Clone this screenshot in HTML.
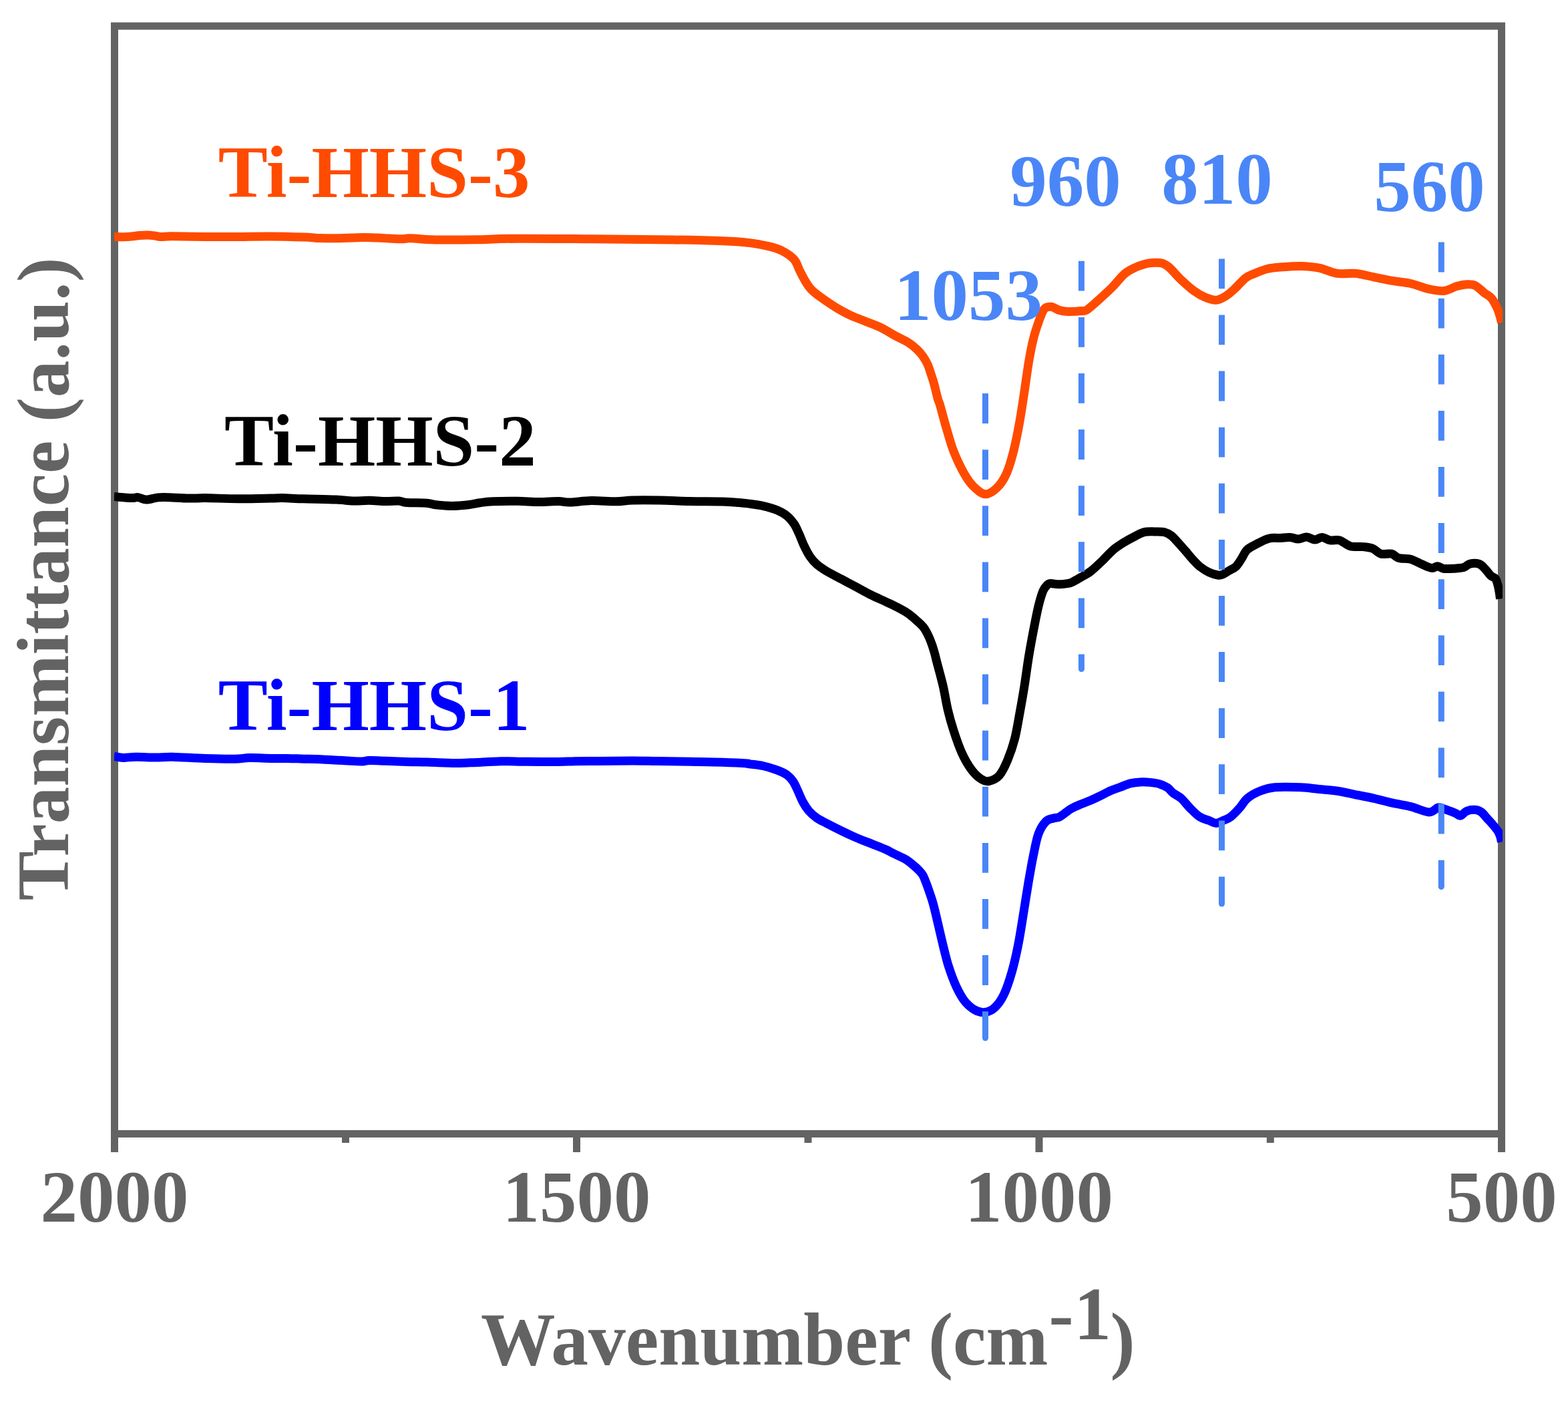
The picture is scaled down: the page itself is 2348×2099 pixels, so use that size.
<!DOCTYPE html>
<html><head><meta charset="utf-8"><title>FTIR spectra</title>
<style>
html,body{margin:0;padding:0;background:#fff;}
body{width:2348px;height:2099px;overflow:hidden;}
svg{display:block;}
svg text{font-family:'Liberation Serif','Times New Roman',serif;font-weight:bold;}
</style></head>
<body>
<svg width="2348" height="2099" viewBox="0 0 2348 2099">
<rect x="171.5" y="39" width="2077" height="1658.5" fill="none" stroke="#636363" stroke-width="11"/>
<line x1="171.5" y1="1697" x2="171.5" y2="1725" stroke="#636363" stroke-width="11"/>
<line x1="863.5" y1="1697" x2="863.5" y2="1725" stroke="#636363" stroke-width="11"/>
<line x1="1556.0" y1="1697" x2="1556.0" y2="1725" stroke="#636363" stroke-width="11"/>
<line x1="2248.5" y1="1697" x2="2248.5" y2="1725" stroke="#636363" stroke-width="11"/>
<line x1="517.5" y1="1697" x2="517.5" y2="1711" stroke="#636363" stroke-width="11"/>
<line x1="1210.0" y1="1697" x2="1210.0" y2="1711" stroke="#636363" stroke-width="11"/>
<line x1="1902.3" y1="1697" x2="1902.3" y2="1711" stroke="#636363" stroke-width="11"/>
<defs><clipPath id="pc"><rect x="171" y="30" width="2079" height="1680"/></clipPath></defs>
<path clip-path="url(#pc)"  d="M171.0,354.4 C173.3,354.4 180.3,354.8 184.6,354.7 C188.9,354.6 192.7,354.4 196.8,354.0 C200.9,353.6 205.0,352.9 209.1,352.5 C213.2,352.1 217.7,351.8 221.4,351.9 C225.1,352.0 227.9,352.5 231.2,352.9 C234.5,353.3 236.5,354.2 241.0,354.4 C245.5,354.5 247.1,353.8 258.2,353.8 C269.2,353.8 290.9,354.3 307.3,354.4 C323.7,354.5 340.1,354.5 356.5,354.4 C372.9,354.3 389.2,353.9 405.6,354.0 C422.0,354.1 442.4,354.7 454.7,355.1 C467.0,355.5 471.1,356.3 479.3,356.6 C487.5,356.9 495.6,356.9 503.8,356.8 C512.0,356.7 521.4,356.3 528.4,356.1 C535.4,355.9 539.5,355.6 545.6,355.6 C551.7,355.6 559.1,355.9 565.2,356.1 C571.3,356.3 576.3,356.7 582.4,357.0 C588.5,357.3 596.7,357.9 602.0,357.8 C607.3,357.8 606.9,356.5 614.3,356.7 C621.7,356.9 636.1,358.4 646.2,358.8 C656.3,359.2 663.8,358.9 675.0,358.9 C686.2,358.9 697.0,359.1 713.7,358.8 C730.4,358.5 746.4,357.4 775.0,357.2 C803.6,357.0 846.7,357.5 885.6,357.8 C924.5,358.1 975.7,358.5 1008.4,359.0 C1041.1,359.5 1063.4,360.1 1082.0,360.8 C1100.6,361.5 1108.8,362.1 1120.0,363.4 C1131.2,364.7 1140.9,366.3 1149.5,368.4 C1158.1,370.4 1165.0,372.3 1171.6,375.7 C1178.2,379.1 1184.8,383.5 1189.2,388.6 C1193.6,393.7 1195.1,400.7 1198.1,406.3 C1201.0,411.9 1204.0,417.8 1206.9,422.5 C1209.9,427.2 1211.9,430.4 1215.8,434.3 C1219.7,438.2 1224.4,441.7 1230.5,446.1 C1236.6,450.5 1245.2,456.4 1252.6,460.8 C1260.0,465.2 1267.3,469.2 1274.7,472.6 C1282.1,476.0 1289.4,478.4 1296.8,481.4 C1304.2,484.3 1311.7,486.8 1318.9,490.3 C1326.1,493.8 1333.0,498.5 1339.8,502.2 C1346.6,505.9 1354.1,509.1 1359.6,512.5 C1365.1,515.9 1369.0,519.3 1372.7,522.7 C1376.4,526.1 1378.8,528.8 1381.6,532.7 C1384.3,536.6 1387.2,541.5 1389.2,545.9 C1391.2,550.3 1392.3,554.7 1393.8,559.1 C1395.3,563.5 1396.8,567.9 1398.1,572.3 C1399.4,576.7 1400.3,581.1 1401.4,585.5 C1402.5,589.9 1403.7,595.1 1404.8,598.7 C1405.9,602.3 1405.7,599.8 1407.8,607.0 C1409.9,614.2 1414.1,630.8 1417.5,642.2 C1420.9,653.6 1423.6,664.5 1428.0,675.6 C1432.4,686.7 1438.8,700.2 1443.8,709.0 C1448.8,717.8 1452.6,723.3 1457.9,728.4 C1463.2,733.5 1469.6,739.5 1475.5,739.8 C1481.4,740.1 1487.8,735.2 1493.1,730.1 C1498.4,725.0 1503.0,718.1 1507.1,709.0 C1511.2,699.9 1514.5,688.2 1517.7,675.6 C1520.9,663.0 1523.9,647.8 1526.5,633.4 C1529.1,619.0 1531.2,604.7 1533.5,589.5 C1535.8,574.3 1538.2,555.8 1540.5,542.0 C1542.8,528.2 1545.2,516.5 1547.6,506.8 C1549.9,497.1 1552.0,491.3 1554.6,484.0 C1557.2,476.7 1560.2,467.0 1563.4,462.9 C1566.6,458.8 1570.2,459.0 1574.0,459.3 C1577.8,459.6 1582.2,463.4 1586.3,464.6 C1590.4,465.8 1593.0,466.2 1598.6,466.4 C1604.2,466.5 1614.8,466.0 1619.7,465.5 C1624.6,465.0 1623.5,466.6 1628.0,463.6 C1632.5,460.6 1640.3,453.4 1646.6,447.7 C1652.9,442.0 1659.8,435.8 1666.0,429.5 C1672.2,423.2 1678.3,414.8 1684.0,410.0 C1689.7,405.2 1695.0,402.9 1700.0,400.5 C1705.0,398.1 1709.6,396.7 1713.8,395.5 C1718.0,394.3 1720.6,393.8 1725.0,393.5 C1729.4,393.2 1735.7,392.8 1740.0,394.0 C1744.3,395.2 1746.2,396.3 1751.0,400.5 C1755.8,404.7 1762.6,413.2 1768.8,419.0 C1775.0,424.8 1782.0,431.1 1788.0,435.5 C1794.0,439.9 1799.0,442.8 1804.5,445.1 C1810.0,447.4 1816.0,449.5 1821.0,449.3 C1826.0,449.1 1830.2,446.6 1834.8,443.8 C1839.4,441.1 1843.5,437.4 1848.5,432.8 C1853.5,428.2 1860.0,420.2 1865.0,416.3 C1870.0,412.4 1873.3,411.7 1878.8,409.4 C1884.3,407.1 1891.1,404.1 1898.0,402.5 C1904.9,400.9 1911.8,400.5 1920.0,399.8 C1928.2,399.1 1938.3,398.2 1947.5,398.4 C1956.7,398.6 1965.8,399.3 1975.0,401.1 C1984.2,402.9 1993.3,408.0 2002.5,409.4 C2011.7,410.8 2020.8,408.5 2030.0,409.4 C2039.2,410.3 2048.3,413.1 2057.5,414.9 C2066.7,416.7 2075.8,418.8 2085.0,420.4 C2094.2,422.0 2103.3,422.4 2112.5,424.5 C2121.7,426.6 2131.8,431.0 2140.0,432.8 C2148.2,434.6 2155.1,436.2 2162.0,435.5 C2168.9,434.8 2175.8,430.2 2181.3,428.6 C2186.8,427.0 2190.4,426.1 2195.0,425.9 C2199.6,425.7 2204.2,425.2 2208.8,427.3 C2213.4,429.4 2218.4,435.1 2222.5,438.3 C2226.6,441.5 2230.3,442.7 2233.5,446.5 C2236.7,450.3 2239.7,456.6 2241.8,461.0 C2243.9,465.4 2244.9,469.3 2246.0,473.0 C2247.1,476.7 2248.1,481.3 2248.5,483.0" fill="none" stroke="#FF4B00" stroke-width="13" stroke-linejoin="round" stroke-linecap="butt"/>
<path clip-path="url(#pc)"  d="M171.0,743.6 C175.3,743.9 190.9,745.4 196.8,745.6 C202.8,745.8 203.0,744.2 206.7,744.6 C210.4,745.0 214.4,748.0 218.9,748.1 C223.4,748.2 229.2,746.0 233.7,745.4 C238.2,744.8 237.8,744.3 246.0,744.4 C254.2,744.5 272.6,745.9 282.8,746.1 C293.0,746.3 295.0,745.5 307.3,745.6 C319.6,745.7 340.1,746.7 356.5,746.8 C372.9,746.9 394.6,746.3 405.6,746.1 C416.7,745.9 414.6,745.5 422.8,745.6 C431.0,745.7 441.2,746.4 454.7,746.8 C468.2,747.2 491.5,747.6 503.8,748.1 C516.1,748.6 520.2,749.8 528.4,750.0 C536.6,750.2 544.8,749.2 553.0,749.3 C561.2,749.4 570.1,750.4 577.5,750.5 C584.9,750.6 591.8,749.7 597.1,750.0 C602.4,750.3 602.4,752.0 609.4,752.5 C616.4,753.0 631.8,752.7 638.9,753.2 C646.0,753.7 646.0,755.0 652.3,755.7 C658.6,756.4 668.6,757.4 676.8,757.4 C685.0,757.4 694.4,756.5 701.4,755.7 C708.4,754.9 712.5,753.5 718.6,752.7 C724.7,751.9 728.8,751.2 738.2,750.8 C747.6,750.4 763.6,750.2 775.1,750.3 C786.6,750.4 796.8,751.5 807.0,751.5 C817.2,751.5 828.7,750.4 836.5,750.5 C844.3,750.6 845.5,752.2 853.7,752.0 C861.9,751.8 874.2,749.7 885.6,749.5 C897.0,749.3 912.2,750.9 922.4,750.8 C932.6,750.7 936.0,749.3 947.0,749.0 C958.0,748.7 974.4,748.8 988.7,749.0 C1003.0,749.2 1017.4,750.2 1032.9,750.5 C1048.5,750.8 1069.7,750.7 1082.0,751.0 C1094.3,751.3 1100.3,752.0 1106.6,752.5 C1112.9,753.0 1114.1,753.1 1120.0,753.9 C1125.9,754.7 1134.7,755.6 1142.1,757.3 C1149.5,759.0 1158.1,761.3 1164.2,763.9 C1170.3,766.5 1174.7,769.3 1178.9,772.7 C1183.1,776.1 1186.2,780.1 1189.2,784.5 C1192.2,788.9 1194.1,793.9 1196.6,799.3 C1199.1,804.7 1201.3,811.3 1204.0,816.9 C1206.7,822.5 1209.6,828.4 1212.8,833.1 C1216.0,837.8 1218.9,841.2 1223.1,844.9 C1227.3,848.6 1231.8,851.5 1237.9,855.2 C1244.1,858.9 1252.6,863.1 1260.0,867.0 C1267.4,870.9 1274.7,874.9 1282.1,878.8 C1289.5,882.7 1296.8,886.9 1304.2,890.6 C1311.6,894.3 1320.4,898.1 1326.3,900.9 C1332.2,903.7 1334.2,904.3 1339.8,907.2 C1345.3,910.1 1354.1,914.6 1359.6,918.3 C1365.1,921.9 1368.8,925.6 1372.7,929.1 C1376.6,932.6 1380.0,935.4 1383.0,939.3 C1386.0,943.2 1388.4,948.1 1390.5,952.5 C1392.6,956.9 1394.2,961.3 1395.8,965.7 C1397.3,970.1 1398.6,974.5 1399.8,978.9 C1401.0,983.3 1401.0,984.1 1403.1,992.1 C1405.2,1000.1 1409.5,1015.3 1412.2,1027.0 C1414.9,1038.7 1416.6,1051.1 1419.2,1062.2 C1421.8,1073.3 1424.5,1083.0 1428.0,1093.8 C1431.5,1104.6 1435.9,1117.6 1440.3,1127.3 C1444.7,1137.0 1449.7,1145.5 1454.4,1151.9 C1459.1,1158.3 1464.1,1163.0 1468.5,1165.9 C1472.9,1168.8 1476.1,1170.4 1480.8,1169.5 C1485.5,1168.6 1491.9,1166.0 1496.6,1160.7 C1501.3,1155.4 1505.1,1146.9 1508.9,1137.8 C1512.7,1128.7 1516.5,1117.9 1519.5,1106.2 C1522.5,1094.5 1524.6,1080.7 1527.0,1067.5 C1529.4,1054.3 1531.8,1041.1 1534.0,1027.0 C1536.2,1012.9 1538.1,997.8 1540.5,983.1 C1542.9,968.5 1546.0,952.0 1548.5,939.1 C1551.0,926.2 1553.2,914.8 1555.5,905.7 C1557.8,896.6 1559.9,889.6 1562.0,884.6 C1564.1,879.6 1566.2,877.9 1568.0,876.0 C1569.8,874.1 1570.2,873.7 1573.0,873.5 C1575.8,873.3 1580.6,874.7 1584.6,874.8 C1588.5,874.9 1593.3,874.4 1596.7,873.9 C1600.1,873.4 1601.4,873.5 1605.0,871.9 C1608.6,870.3 1613.7,867.2 1618.4,864.4 C1623.1,861.6 1628.1,859.2 1633.4,855.2 C1638.7,851.2 1644.5,845.4 1650.1,840.1 C1655.7,834.8 1661.2,828.1 1666.8,823.4 C1672.4,818.7 1677.9,815.3 1683.5,811.8 C1689.1,808.3 1695.2,805.1 1700.2,802.6 C1705.2,800.1 1708.6,797.8 1713.6,796.7 C1718.6,795.6 1725.3,795.9 1730.3,795.9 C1735.3,795.9 1739.8,795.7 1743.7,796.7 C1747.6,797.7 1750.4,799.2 1753.7,801.7 C1757.0,804.2 1760.1,807.9 1763.7,811.8 C1767.3,815.7 1771.8,820.9 1775.4,825.1 C1779.0,829.3 1781.8,832.9 1785.4,836.8 C1789.0,840.7 1792.9,845.2 1797.1,848.5 C1801.3,851.8 1806.0,854.7 1810.5,856.8 C1815.0,858.9 1820.5,860.4 1823.8,861.0 C1827.1,861.6 1827.7,861.3 1830.5,860.2 C1833.3,859.1 1837.2,856.2 1840.5,854.3 C1843.8,852.3 1847.4,851.4 1850.5,848.5 C1853.6,845.6 1856.1,841.0 1858.9,836.8 C1861.7,832.6 1863.6,827.0 1867.2,823.4 C1870.8,819.8 1875.1,818.0 1880.6,815.1 C1886.1,812.2 1893.8,807.8 1900.0,806.2 C1906.2,804.6 1912.4,805.7 1917.7,805.4 C1923.0,805.1 1927.4,804.2 1931.8,804.5 C1936.2,804.8 1940.1,807.2 1944.2,807.1 C1948.3,807.0 1952.5,803.8 1956.6,803.9 C1960.7,804.0 1965.2,807.9 1969.0,808.0 C1972.8,808.1 1975.8,804.4 1979.6,804.5 C1983.4,804.6 1987.5,808.2 1991.9,808.9 C1996.3,809.6 2001.1,807.4 2006.1,808.9 C2011.1,810.4 2016.1,816.1 2022.0,817.7 C2027.9,819.3 2035.8,818.0 2041.4,818.6 C2047.0,819.2 2051.2,819.5 2055.6,821.3 C2060.0,823.1 2063.3,827.9 2068.0,829.2 C2072.7,830.5 2079.5,828.2 2083.9,829.2 C2088.3,830.2 2089.8,834.1 2094.5,835.4 C2099.2,836.7 2106.3,835.6 2112.2,837.2 C2118.1,838.8 2124.5,842.9 2129.8,845.1 C2135.1,847.3 2140.2,850.0 2144.0,850.4 C2147.8,850.8 2149.9,847.6 2152.8,847.8 C2155.8,847.9 2157.9,850.7 2161.7,851.3 C2165.5,851.9 2170.8,851.6 2175.8,851.3 C2180.8,851.0 2187.6,850.8 2191.7,849.6 C2195.8,848.4 2196.8,845.2 2200.6,844.3 C2204.4,843.4 2210.9,843.1 2214.7,844.3 C2218.5,845.5 2220.6,848.4 2223.5,851.3 C2226.4,854.2 2229.7,859.4 2232.4,861.9 C2235.1,864.4 2237.7,863.7 2239.5,866.4 C2241.3,869.1 2242.5,874.2 2243.5,878.0 C2244.5,881.8 2245.0,885.9 2245.5,889.0 C2246.0,892.1 2246.3,895.2 2246.5,896.5" fill="none" stroke="#000000" stroke-width="13" stroke-linejoin="round" stroke-linecap="butt"/>
<path clip-path="url(#pc)"  d="M171.0,1132.4 C173.3,1132.7 179.1,1134.3 184.6,1134.4 C190.1,1134.5 196.0,1133.2 204.2,1133.2 C212.4,1133.2 224.7,1134.1 233.7,1134.1 C242.7,1134.1 245.9,1133.0 258.2,1133.2 C270.5,1133.5 291.8,1135.1 307.3,1135.6 C322.9,1136.1 340.4,1136.5 351.5,1136.3 C362.6,1136.1 364.7,1134.8 373.7,1134.6 C382.7,1134.4 396.2,1135.3 405.6,1135.4 C415.0,1135.5 421.9,1135.3 430.1,1135.4 C438.3,1135.5 446.5,1136.0 454.7,1136.2 C462.9,1136.4 469.1,1136.4 479.3,1136.8 C489.5,1137.2 505.9,1138.3 516.1,1138.8 C526.3,1139.3 534.5,1140.0 540.6,1140.0 C546.8,1140.0 546.9,1138.7 553.0,1138.6 C559.1,1138.5 568.1,1139.0 577.5,1139.3 C586.9,1139.6 599.2,1140.2 609.4,1140.5 C619.6,1140.8 629.7,1140.8 638.9,1141.1 C648.1,1141.3 656.2,1141.8 664.6,1142.0 C673.0,1142.2 680.9,1142.6 689.1,1142.5 C697.3,1142.4 703.5,1141.9 713.7,1141.4 C723.9,1140.9 738.2,1139.9 750.5,1139.7 C762.8,1139.5 773.0,1140.2 787.3,1140.3 C801.6,1140.4 824.2,1140.6 836.5,1140.5 C848.8,1140.4 850.8,1139.9 861.0,1139.7 C871.2,1139.5 883.6,1139.6 897.9,1139.5 C912.2,1139.4 932.7,1139.0 947.0,1139.0 C961.3,1139.0 969.5,1139.3 983.8,1139.5 C998.1,1139.7 1016.5,1140.0 1032.9,1140.3 C1049.3,1140.6 1067.7,1140.8 1082.0,1141.3 C1096.3,1141.8 1112.6,1142.6 1118.9,1143.0 C1125.2,1143.4 1116.1,1143.0 1120.0,1143.6 C1123.9,1144.2 1134.7,1144.9 1142.1,1146.5 C1149.5,1148.1 1158.1,1150.9 1164.2,1153.2 C1170.3,1155.5 1175.0,1157.7 1178.9,1160.5 C1182.8,1163.3 1185.1,1166.0 1187.8,1170.1 C1190.5,1174.1 1192.6,1179.6 1195.1,1184.8 C1197.5,1190.0 1199.8,1196.1 1202.5,1201.0 C1205.2,1205.9 1208.0,1210.4 1211.4,1214.3 C1214.8,1218.2 1218.7,1221.5 1223.1,1224.6 C1227.5,1227.7 1231.8,1229.5 1237.9,1232.7 C1244.1,1235.9 1252.6,1240.2 1260.0,1243.8 C1267.4,1247.4 1274.7,1250.9 1282.1,1254.1 C1289.5,1257.3 1296.8,1260.0 1304.2,1262.9 C1311.6,1265.9 1320.7,1269.3 1326.3,1271.8 C1331.9,1274.3 1333.0,1275.3 1338.0,1277.8 C1343.0,1280.3 1351.2,1283.6 1356.3,1286.6 C1361.3,1289.6 1365.0,1293.2 1368.3,1295.9 C1371.6,1298.6 1373.7,1300.6 1376.0,1303.0 C1378.3,1305.4 1380.2,1307.2 1382.0,1310.4 C1383.8,1313.7 1385.5,1318.5 1387.1,1322.5 C1388.7,1326.5 1390.0,1330.6 1391.4,1334.6 C1392.8,1338.6 1394.2,1342.7 1395.5,1346.7 C1396.8,1350.7 1397.2,1352.1 1398.9,1358.8 C1400.6,1365.5 1403.2,1376.8 1405.5,1386.8 C1407.8,1396.8 1410.5,1408.6 1413.0,1418.6 C1415.5,1428.6 1417.3,1436.9 1420.4,1446.6 C1423.5,1456.2 1427.7,1467.8 1431.7,1476.5 C1435.8,1485.2 1440.0,1493.1 1444.7,1499.0 C1449.4,1504.9 1454.7,1509.2 1459.7,1512.0 C1464.7,1514.8 1469.6,1516.1 1474.6,1515.5 C1479.6,1514.9 1484.8,1513.0 1489.6,1508.5 C1494.4,1504.0 1499.2,1497.6 1503.5,1488.5 C1507.8,1479.4 1511.9,1466.7 1515.5,1454.1 C1519.1,1441.5 1522.2,1427.3 1525.0,1413.0 C1527.8,1398.7 1530.0,1383.5 1532.5,1368.2 C1535.0,1352.9 1537.5,1336.1 1540.0,1321.4 C1542.5,1306.8 1545.0,1292.4 1547.5,1280.3 C1550.0,1268.2 1551.9,1257.0 1555.0,1248.6 C1558.1,1240.2 1562.4,1233.8 1566.2,1229.9 C1570.0,1226.0 1574.5,1226.1 1577.7,1225.0 C1580.9,1223.9 1582.7,1224.7 1585.5,1223.5 C1588.3,1222.3 1591.3,1219.7 1594.4,1217.6 C1597.5,1215.5 1600.1,1213.0 1604.2,1210.7 C1608.3,1208.4 1614.0,1206.0 1618.9,1203.9 C1623.8,1201.8 1628.8,1200.1 1633.7,1198.0 C1638.6,1195.9 1643.5,1193.5 1648.4,1191.1 C1653.3,1188.7 1658.2,1185.8 1663.1,1183.7 C1668.0,1181.6 1673.0,1180.1 1677.9,1178.3 C1682.8,1176.5 1687.7,1174.1 1692.6,1172.9 C1697.5,1171.7 1702.4,1171.2 1707.3,1170.9 C1712.2,1170.7 1717.2,1170.9 1722.1,1171.4 C1727.0,1171.9 1732.4,1172.6 1736.8,1173.9 C1741.2,1175.2 1745.3,1177.1 1748.6,1179.3 C1751.9,1181.5 1753.1,1184.5 1756.5,1187.2 C1759.9,1189.9 1764.5,1191.4 1768.8,1195.3 C1773.1,1199.2 1777.9,1205.8 1782.5,1210.4 C1787.1,1215.0 1791.7,1219.8 1796.3,1222.8 C1800.9,1225.8 1805.9,1226.7 1810.0,1228.3 C1814.1,1229.9 1817.3,1232.4 1821.0,1232.4 C1824.7,1232.4 1828.3,1229.9 1832.0,1228.3 C1835.7,1226.7 1838.9,1226.0 1843.0,1222.8 C1847.1,1219.6 1852.7,1213.6 1856.8,1209.0 C1860.9,1204.4 1862.8,1199.4 1867.8,1195.3 C1872.8,1191.2 1880.1,1187.0 1887.0,1184.3 C1893.9,1181.5 1898.9,1179.7 1909.0,1178.8 C1919.1,1177.9 1936.5,1178.3 1947.5,1178.8 C1958.5,1179.2 1965.8,1180.6 1975.0,1181.5 C1984.2,1182.4 1993.3,1182.9 2002.5,1184.3 C2011.7,1185.7 2020.8,1188.0 2030.0,1189.8 C2039.2,1191.6 2048.3,1193.2 2057.5,1195.3 C2066.7,1197.3 2075.8,1200.0 2085.0,1202.1 C2094.2,1204.1 2103.3,1205.3 2112.5,1207.6 C2121.7,1209.9 2133.1,1215.7 2140.0,1215.9 C2146.9,1216.1 2149.6,1209.7 2153.8,1209.0 C2158.0,1208.3 2160.6,1210.5 2165.0,1212.0 C2169.4,1213.5 2176.3,1216.2 2180.0,1217.7 C2183.7,1219.2 2184.3,1221.8 2187.1,1221.2 C2189.8,1220.6 2192.7,1215.7 2196.5,1214.2 C2200.3,1212.7 2206.5,1212.1 2210.2,1212.4 C2213.9,1212.7 2215.8,1213.9 2218.5,1216.0 C2221.2,1218.1 2223.9,1222.0 2226.7,1225.0 C2229.4,1228.0 2232.2,1230.8 2235.0,1234.1 C2237.8,1237.4 2241.3,1241.6 2243.2,1244.6 C2245.1,1247.6 2245.6,1249.3 2246.5,1252.0 C2247.4,1254.7 2248.2,1259.1 2248.5,1260.5" fill="none" stroke="#0000FF" stroke-width="13" stroke-linejoin="round" stroke-linecap="butt"/>
<line x1="1475.5" y1="589.1" x2="1475.5" y2="1554.0" stroke="#4A86F7" stroke-width="9" stroke-dasharray="44.8 39.3"/>
<circle cx="1475.5" cy="1554.0" r="4.5" fill="#4A86F7"/>
<line x1="1619.4" y1="390.8" x2="1619.4" y2="1001.5" stroke="#4A86F7" stroke-width="9" stroke-dasharray="44.8 39.3"/>
<circle cx="1619.4" cy="1001.5" r="4.5" fill="#4A86F7"/>
<line x1="1829.5" y1="387.4" x2="1829.5" y2="1353.0" stroke="#4A86F7" stroke-width="9" stroke-dasharray="44.8 39.3"/>
<circle cx="1829.5" cy="1353.0" r="4.5" fill="#4A86F7"/>
<line x1="2158.3" y1="362.6" x2="2158.3" y2="1327.5" stroke="#4A86F7" stroke-width="9" stroke-dasharray="44.8 39.3"/>
<circle cx="2158.3" cy="1327.5" r="4.5" fill="#4A86F7"/>
<text x="171.5" y="1828.7" text-anchor="middle" fill="#636363" font-size="111">2000</text>
<text x="863.5" y="1828.7" text-anchor="middle" fill="#636363" font-size="111">1500</text>
<text x="1556.0" y="1828.7" text-anchor="middle" fill="#636363" font-size="111">1000</text>
<text x="2248.5" y="1828.7" text-anchor="middle" fill="#636363" font-size="111">500</text>
<text y="2043" fill="#636363" font-size="111.5"><tspan x="719.9">Wavenumber (cm</tspan><tspan x="1570.6" y="2005">-</tspan><tspan x="1608.2" y="2005">1</tspan><tspan x="1662.6" y="2043">)</tspan></text>
<text transform="translate(101.9,866.8) rotate(-90)" text-anchor="middle" fill="#636363" font-size="111">Transmittance (a.u.)</text>
<text x="326.7" y="294.7" fill="#FF4B00" font-size="111">Ti-HHS-3</text>
<text x="336.1" y="696.6" fill="#000000" font-size="111">Ti-HHS-2</text>
<text x="326.7" y="1093.4" fill="#0000FF" font-size="111">Ti-HHS-1</text>
<text x="1339.1" y="478.5" fill="#4A86F7" font-size="111">1053</text>
<text x="1512.3" y="308.0" fill="#4A86F7" font-size="111">960</text>
<text x="1739.3" y="304.5" fill="#4A86F7" font-size="111">810</text>
<text x="2057.3" y="316.0" fill="#4A86F7" font-size="111">560</text>
</svg>
</body></html>
